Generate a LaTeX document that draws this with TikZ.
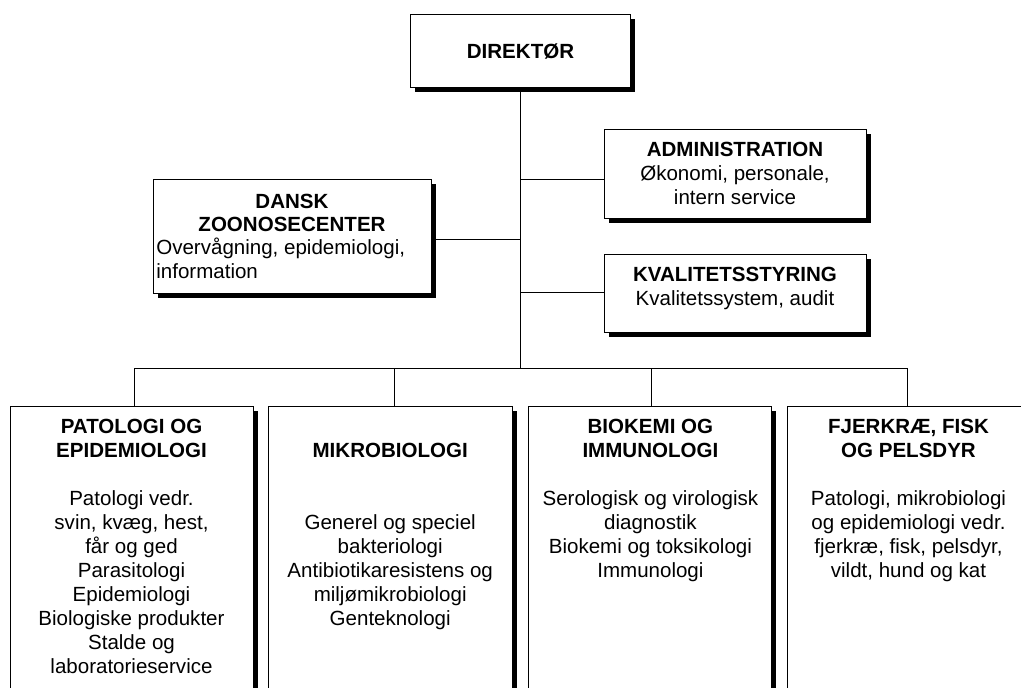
\documentclass[tikz,border=0pt]{standalone}
\usepackage{fontspec}
\setmainfont{Liberation Sans}
\usetikzlibrary{shadows}
\tikzset{
  box/.style={draw=black, line width=0.75pt, fill=white, inner sep=0pt, outer sep=0pt,
    font=\fontsize{15.4}{18}\selectfont,
    drop shadow={shadow xshift=3.4pt, shadow yshift=-3.4pt, fill=black, opacity=1}},
  conn/.style={draw=black, line width=0.75pt}
}
\begin{document}
\begin{tikzpicture}[x=0.75pt, y=-0.75pt]
\useasboundingbox (0,0) rectangle (1021,687);
\clip (0,0) rectangle (1021,687);
% top level
\node[box] (dir) at (520.5,50.5) {\parbox[c][54.75pt][t]{165pt}{\centering\vspace*{20.4pt}\strut\textbf{DIREKTØR}}};
\node[box] (dzc) at (292,236) {\parbox[c][85.5pt][t]{208.5pt}{\fontsize{15.4}{17.5}\selectfont\vspace*{9.5pt}{\centering\strut\textbf{DANSK}\\\textbf{ZOONOSECENTER}\par}\raggedright\leftskip=2.5pt Overvågning, epidemiologi,\\information}};
\node[box] (adm) at (735,173.5) {\parbox[c][66.75pt][t]{196.5pt}{\centering\vspace*{7.65pt}\strut\textbf{ADMINISTRATION}\\Økonomi, personale,\\intern service}};
\node[box] (kval) at (735,293) {\parbox[c][58.5pt][t]{196.5pt}{\centering\vspace*{7.65pt}\strut\textbf{KVALITETSSTYRING}\\Kvalitetssystem, audit}};
% departments
\node[box] (b1) at (131.5,556) {\parbox[c][225pt][t]{182.25pt}{\centering\vspace*{7.65pt}\strut\textbf{PATOLOGI OG}\\\textbf{EPIDEMIOLOGI}\\\strut\\Patologi vedr.\\svin, kvæg, hest,\\får og ged\\Parasitologi\\Epidemiologi\\Biologiske produkter\\Stalde og\\laboratorieservice}};
\node[box] (b2) at (390.2,556) {\parbox[c][225pt][t]{182.8pt}{\centering\vspace*{7.65pt}\strut\\\textbf{MIKROBIOLOGI}\\\strut\\\strut\\Generel og speciel\\bakteriologi\\Antibiotikaresistens og\\miljømikrobiologi\\Genteknologi}};
\node[box] (b3) at (650.4,556) {\parbox[c][225pt][t]{182.25pt}{\centering\vspace*{7.65pt}\strut\textbf{BIOKEMI OG}\\\textbf{IMMUNOLOGI}\\\strut\\Serologisk og virologisk\\diagnostik\\Biokemi og toksikologi\\Immunologi}};
\node[box] (b4) at (908.5,556) {\parbox[c][225pt][t]{182.25pt}{\centering\vspace*{7.65pt}\strut\textbf{FJERKRÆ, FISK}\\\textbf{OG PELSDYR}\\\strut\\Patologi, mikrobiologi\\og epidemiologi vedr.\\fjerkræ, fisk, pelsdyr,\\vildt, hund og kat}};
% junctions
\coordinate (bus) at (520,368);
\coordinate (jz) at (520,239);
\coordinate (ja) at (520,179);
\coordinate (jk) at (520,292);
\coordinate (d1) at (134,368);
\coordinate (d2) at (394.3,368);
\coordinate (d3) at (651,368);
\coordinate (d4) at (907.3,368);
% connectors
\draw[conn] (bus |- dir.south) -- (bus);
\draw[conn] (jz) -- (jz -| dzc.east);
\draw[conn] (ja) -- (ja -| adm.west);
\draw[conn] (jk) -- (jk -| kval.west);
\draw[conn] (d1) -- (d4);
\draw[conn] (d1) -- (d1 |- b1.north);
\draw[conn] (d2) -- (d2 |- b2.north);
\draw[conn] (d3) -- (d3 |- b3.north);
\draw[conn] (d4) -- (d4 |- b4.north);
\end{tikzpicture}
\end{document}
